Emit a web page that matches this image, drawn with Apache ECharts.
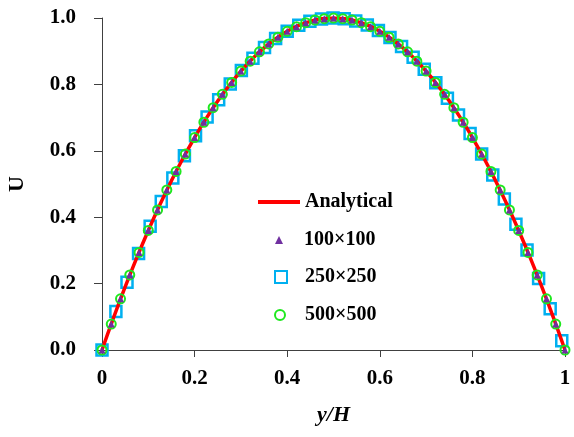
<!DOCTYPE html>
<html>
<head>
<meta charset="utf-8">
<script src="https://cdn.jsdelivr.net/npm/echarts@6/dist/echarts.min.js"></script>
<style>
  html, body { margin: 0; padding: 0; background: #fff; }
  #chart { width: 574px; height: 437px; }
</style>
</head>
<body>
<div id="chart"></div>
<script>
// analytical profile
const analyticY = [0, 0.025, 0.05, 0.075, 0.1, 0.125, 0.15, 0.175, 0.2, 0.225, 0.25, 0.275, 0.3, 0.325, 0.35, 0.375, 0.4, 0.425, 0.45, 0.475, 0.5,
    0.525, 0.55, 0.575, 0.6, 0.625, 0.65, 0.675, 0.7, 0.725, 0.75, 0.775, 0.8, 0.825, 0.85, 0.875, 0.9, 0.925, 0.95, 0.975, 1];
const analyticU = [0, 0.0975, 0.19, 0.2775, 0.36, 0.4375, 0.51, 0.5775, 0.64, 0.6975, 0.75, 0.7975, 0.84, 0.8775, 0.91, 0.9375, 0.96, 0.9775, 0.99, 0.9975, 1,
    0.9975, 0.99, 0.9775, 0.96, 0.9375, 0.91, 0.8775, 0.84, 0.7975, 0.75, 0.6975, 0.64, 0.5775, 0.51, 0.4375, 0.36, 0.2775, 0.19, 0.0975, 0];

// 500x500 (circles) and 100x100 (triangles)
const fineY = [0, 0.02, 0.04, 0.06, 0.08, 0.1, 0.12, 0.14, 0.16, 0.18, 0.2, 0.22, 0.24, 0.26, 0.28, 0.3, 0.32, 0.34, 0.36, 0.38, 0.4, 0.42, 0.44, 0.46, 0.48, 0.5,
    0.52, 0.54, 0.56, 0.58, 0.6, 0.62, 0.64, 0.66, 0.68, 0.7, 0.72, 0.74, 0.76, 0.78, 0.8, 0.82, 0.84, 0.86, 0.88, 0.9, 0.92, 0.94, 0.96, 0.98, 1];
const u500 = [0, 0.078, 0.154, 0.226, 0.294, 0.36, 0.422, 0.482, 0.538, 0.59, 0.64, 0.686, 0.73, 0.77, 0.806, 0.84, 0.87, 0.898, 0.922, 0.942, 0.96, 0.974, 0.986, 0.994, 0.998, 1,
    0.998, 0.994, 0.986, 0.974, 0.96, 0.942, 0.922, 0.898, 0.87, 0.84, 0.806, 0.77, 0.73, 0.686, 0.64, 0.59, 0.538, 0.482, 0.422, 0.36, 0.294, 0.226, 0.154, 0.078, 0];
const u100 = [0, 0.078, 0.154, 0.226, 0.294, 0.36, 0.422, 0.482, 0.538, 0.59, 0.64, 0.686, 0.73, 0.77, 0.806, 0.84, 0.87, 0.898, 0.922, 0.942, 0.96, 0.974, 0.986, 0.994, 0.998, 1,
    0.998, 0.994, 0.986, 0.974, 0.96, 0.942, 0.922, 0.898, 0.87, 0.84, 0.806, 0.77, 0.73, 0.686, 0.64, 0.59, 0.538, 0.482, 0.422, 0.36, 0.294, 0.226, 0.154, 0.078, 0];

// 250x250 (squares)
const y250 = [0, 0.03, 0.054, 0.079, 0.104, 0.128, 0.153, 0.178, 0.202, 0.227, 0.252, 0.277, 0.301, 0.326, 0.351, 0.375, 0.4, 0.425, 0.449, 0.474, 0.499,
    0.523, 0.548, 0.573, 0.597, 0.622, 0.647, 0.672, 0.696, 0.721, 0.746, 0.77, 0.795, 0.82, 0.844, 0.869, 0.894, 0.918, 0.943, 0.968, 0.993];
const u250 = [0, 0.116, 0.204, 0.291, 0.373, 0.447, 0.518, 0.585, 0.645, 0.702, 0.754, 0.801, 0.842, 0.879, 0.911, 0.938, 0.96, 0.978, 0.99, 0.997, 1,
    0.998, 0.991, 0.979, 0.962, 0.941, 0.914, 0.882, 0.846, 0.805, 0.758, 0.708, 0.652, 0.59, 0.527, 0.455, 0.379, 0.301, 0.215, 0.124, 0.028];

const yTicks = ['0.0', '0.2', '0.4', '0.6', '0.8', '1.0'];
const xTicks = ['0', '0.2', '0.4', '0.6', '0.8', '1'];

const zip = (xs, ys) => xs.map((x, i) => [x, ys[i]]);
const font = 'Liberation Serif';
const axisColor = '#404040';

const chart = echarts.init(document.getElementById('chart'));

const legendText = (pad) => ({ fontFamily: font, fontWeight: 'bold', fontSize: 20, color: '#000', padding: [0, 0, 0, pad] });

chart.setOption({
    animation: false,
    grid: { left: 102, right: 9, top: 18, bottom: 87, containLabel: false, outerBoundsMode: 'none' },
    xAxis: {
        type: 'value', min: 0, max: 1, interval: 0.2,
        name: 'y/H', nameLocation: 'middle', nameGap: 54,
        nameTextStyle: { fontFamily: font, fontStyle: 'italic', fontWeight: 'bold', fontSize: 22, color: '#000' },
        axisLine: { lineStyle: { color: axisColor, width: 1 } },
        axisTick: { show: true, length: 7, lineStyle: { color: axisColor } },
        axisLabel: {
            margin: 18, fontFamily: font, fontWeight: 'bold', fontSize: 21, color: '#000',
            formatter: (v) => xTicks[Math.round(v / 0.2)]
        },
        splitLine: { show: false }
    },
    yAxis: {
        type: 'value', min: 0, max: 1, interval: 0.2,
        name: 'U', nameLocation: 'middle', nameGap: 74, nameRotate: 90,
        nameTextStyle: { fontFamily: font, fontWeight: 'bold', fontSize: 22, color: '#000' },
        axisLine: { show: true, lineStyle: { color: axisColor, width: 1 } },
        axisTick: { show: true, length: 8, lineStyle: { color: axisColor } },
        axisLabel: {
            margin: 26, fontFamily: font, fontWeight: 'bold', fontSize: 21, color: '#000',
            formatter: (v) => yTicks[Math.round(v / 0.2)]
        },
        splitLine: { show: false }
    },
    legend: [
        { data: [{ name: 'Analytical', icon: 'rect' }], left: 258, top: 192, padding: 0, itemWidth: 42, itemHeight: 4, itemStyle: { color: '#ff0000' }, textStyle: legendText(0) },
        { data: ['100×100'], left: 275, top: 230, padding: 0, itemWidth: 8, itemHeight: 8, textStyle: legendText(16) },
        { data: ['250×250'], left: 274, top: 267, padding: 0, itemWidth: 12, itemHeight: 12, textStyle: legendText(13) },
        { data: ['500×500'], left: 274, top: 305, padding: 0, itemWidth: 10, itemHeight: 10, textStyle: legendText(15) }
    ],
    series: [
        {
            name: '250×250', type: 'scatter', z: 2,
            symbol: 'rect', symbolSize: 11,
            itemStyle: { color: 'rgba(0,0,0,0)', borderColor: '#00b0f0', borderWidth: 2.5, opacity: 1 },
            data: zip(y250, u250)
        },
        {
            name: 'Analytical', type: 'line', z: 3,
            smooth: true, showSymbol: false, symbol: 'none',
            lineStyle: { color: '#ff0000', width: 3.5 },
            itemStyle: { color: '#ff0000' },
            data: zip(analyticY, analyticU)
        },
        {
            name: '500×500', type: 'scatter', z: 4,
            symbol: 'circle', symbolSize: 9,
            itemStyle: { color: 'rgba(0,0,0,0)', borderColor: '#1ee81e', borderWidth: 2, opacity: 1 },
            data: zip(fineY, u500)
        },
        {
            name: '100×100', type: 'scatter', z: 5,
            symbol: 'triangle', symbolSize: 7,
            itemStyle: { color: '#7030a0', opacity: 1 },
            data: zip(fineY, u100)
        }
    ]
});
window.addEventListener('resize', () => chart.resize());
</script>
</body>
</html>
